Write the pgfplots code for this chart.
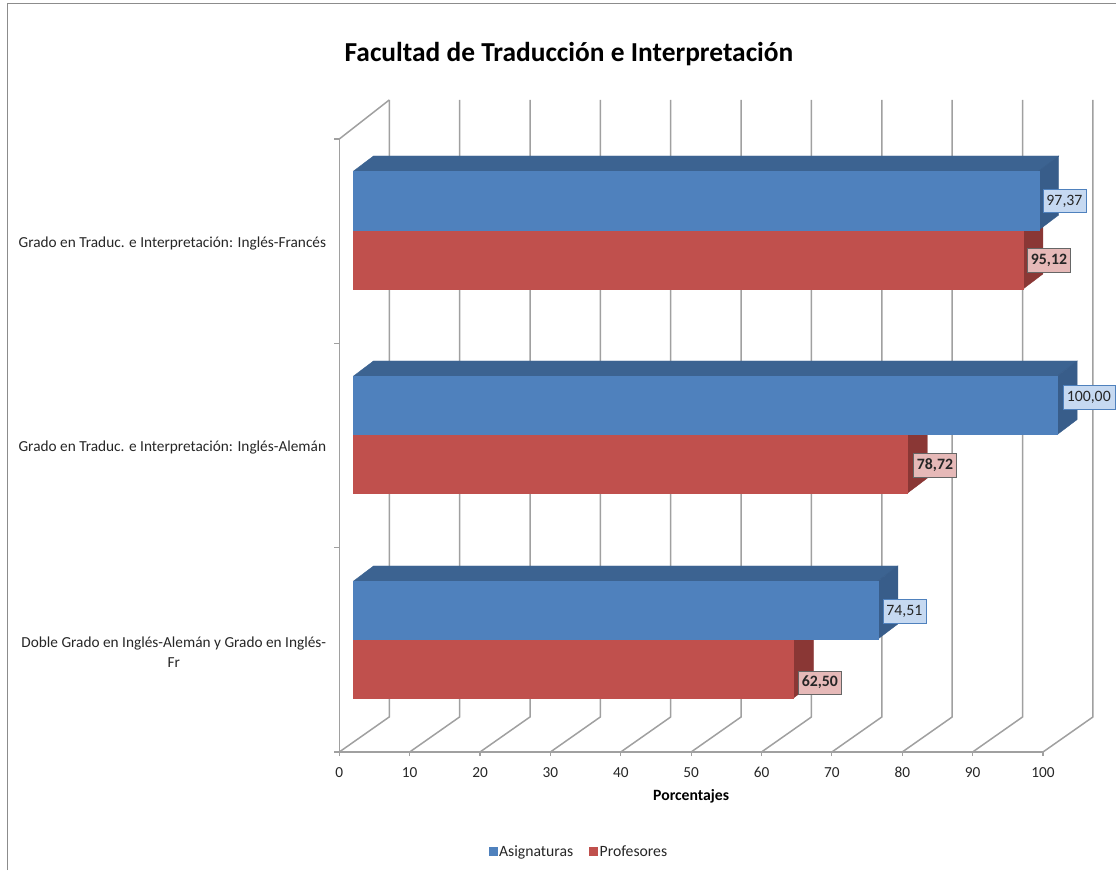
\documentclass[border=0pt]{standalone}
\usepackage{fontspec}
\setmainfont{Carlito}
\usepackage{pgfplots}
\pgfplotsset{compat=1.18}

\definecolor{bluefront}{HTML}{4F81BD}
\definecolor{bluetop}{HTML}{3C6391}
\definecolor{blueside}{HTML}{385D8A}
\definecolor{bluelabel}{HTML}{C6D9F1}
\definecolor{redfront}{HTML}{C0504D}
\definecolor{redside}{HTML}{8A3735}
\definecolor{redlabel}{HTML}{E6B9B8}
\definecolor{wall}{HTML}{A0A0A0}

\tikzset{vallabel/.style={inner sep=0pt, minimum width=43pt, minimum height=23.5pt,
        font=\fontsize{15.8}{16}\selectfont, text=black!85}}

\begin{document}
\begin{tikzpicture}[x=1pt,y=1pt]
\path[use as bounding box] (0,0) rectangle (1116,870);
\draw[gray!90,line width=1pt] (7.5,0) -- (7.5,866.5) -- (1116,866.5);

\begin{axis}[
    at={(339.3pt,118pt)}, anchor=south west,
    scale only axis,
    width=703.7pt, height=613pt,
    xmin=0, xmax=100, ymin=0, ymax=3,
    clip=false,
    axis x line*=bottom, axis y line*=left,
    axis line style={wall, line width=1.5pt, -},
    xtick={0,10,...,100},
    ytick={0.5,1.5,2.5},
    minor ytick={0,1,2,3},
    yticklabels={{Doble Grado en Inglés-Alemán y Grado en Inglés-\\Fr},
                 {Grado en Traduc. e Interpretación: Inglés-Alemán},
                 {Grado en Traduc. e Interpretación: Inglés-Francés}},
    tick align=outside,
    major tick length=4pt,
    minor tick length=5pt,
    y tick style={draw=none},
    minor y tick style={wall, line width=1.2pt, draw=wall},
    x tick style={wall, line width=1.2pt},
    tick label style={font=\fontsize{15.3}{20}\selectfont, text=black!85},
    yticklabel style={align=center, inner sep=0pt, xshift=-9pt, yshift=-2pt},
    xticklabel style={inner sep=0pt, yshift=-11pt},
    /pgf/number format/assume math mode=true,
    title={\fontsize{27.4}{32}\selectfont\bfseries Facultad de Traducción e Interpretación},
    title style={at={(0.3264,1.1289)}, anchor=center, inner sep=0pt},
    xlabel={\fontsize{15.7}{18}\selectfont\bfseries Porcentajes},
    xlabel style={at={(0.5,-0.0718)}, anchor=center, inner sep=0pt},
    legend columns=2,
    legend style={at={(0.3405,-0.1625)}, anchor=center, draw=none, fill=none,
        font=\fontsize{15.7}{18}\selectfont, text=black!85,
        /tikz/every even column/.append style={column sep=14pt}},
    face/.style={forget plot, x filter/.expression={x+2.04}},
    gridline/.style={forget plot, wall, line width=1.5pt, mark=none},
]

% back wall and floor lines
\addplot[gridline] coordinates {(0,3) (7.1,3.191)};
\addplot[gridline] coordinates {(0,0) (7.1,0.1716) (7.1,3.191)};
\addplot[gridline] coordinates {(10,0) (17.1,0.1716) (17.1,3.191)};
\addplot[gridline] coordinates {(20,0) (27.1,0.1716) (27.1,3.191)};
\addplot[gridline] coordinates {(30,0) (37.1,0.1716) (37.1,3.191)};
\addplot[gridline] coordinates {(40,0) (47.1,0.1716) (47.1,3.191)};
\addplot[gridline] coordinates {(50,0) (57.1,0.1716) (57.1,3.191)};
\addplot[gridline] coordinates {(60,0) (67.1,0.1716) (67.1,3.191)};
\addplot[gridline] coordinates {(70,0) (77.1,0.1716) (77.1,3.191)};
\addplot[gridline] coordinates {(80,0) (87.1,0.1716) (87.1,3.191)};
\addplot[gridline] coordinates {(90,0) (97.1,0.1716) (97.1,3.191)};
\addplot[gridline] coordinates {(100,0) (107.1,0.1716) (107.1,3.191)};

% Doble Grado: Profesores 62,50 / Asignaturas 74,51
\addplot[face, fill=redside, draw=redside] coordinates {(62.5,0.2643) (65.32,0.3377) (65.32,0.6264) (62.5,0.5530)} --cycle;
\addplot[face, fill=redfront, draw=redfront] coordinates {(0,0.2643) (62.5,0.2643) (62.5,0.5530) (0,0.5530)} --cycle;
\addplot[face, fill=bluetop, draw=bluetop] coordinates {(0,0.8369) (74.51,0.8369) (77.33,0.9103) (2.82,0.9103)} --cycle;
\addplot[face, fill=blueside, draw=blueside] coordinates {(74.51,0.5530) (77.33,0.6264) (77.33,0.9103) (74.51,0.8369)} --cycle;
\addplot[face, fill=bluefront, draw=bluefront] coordinates {(0,0.5530) (74.51,0.5530) (74.51,0.8369) (0,0.8369)} --cycle;

% Ingles-Aleman: Profesores 78,72 / Asignaturas 100,00
\addplot[face, fill=redside, draw=redside] coordinates {(78.72,1.2676) (81.54,1.3410) (81.54,1.6273) (78.72,1.5539)} --cycle;
\addplot[face, fill=redfront, draw=redfront] coordinates {(0,1.2676) (78.72,1.2676) (78.72,1.5539) (0,1.5539)} --cycle;
\addplot[face, fill=bluetop, draw=bluetop] coordinates {(0,1.8402) (100,1.8402) (102.82,1.9136) (2.82,1.9136)} --cycle;
\addplot[face, fill=blueside, draw=blueside] coordinates {(100,1.5539) (102.82,1.6273) (102.82,1.9136) (100,1.8402)} --cycle;
\addplot[face, fill=bluefront, draw=bluefront] coordinates {(0,1.5539) (100,1.5539) (100,1.8402) (0,1.8402)} --cycle;

% Ingles-Frances: Profesores 95,12 / Asignaturas 97,37
\addplot[face, fill=redside, draw=redside] coordinates {(95.12,2.2659) (97.94,2.3393) (97.94,2.6281) (95.12,2.5547)} --cycle;
\addplot[face, fill=redfront, draw=redfront] coordinates {(0,2.2659) (95.12,2.2659) (95.12,2.5547) (0,2.5547)} --cycle;
\addplot[face, fill=bluetop, draw=bluetop] coordinates {(0,2.8434) (97.37,2.8434) (100.19,2.9168) (2.82,2.9168)} --cycle;
\addplot[face, fill=blueside, draw=blueside] coordinates {(97.37,2.5547) (100.19,2.6281) (100.19,2.9168) (97.37,2.8434)} --cycle;
\addplot[face, fill=bluefront, draw=bluefront] coordinates {(0,2.5547) (97.37,2.5547) (97.37,2.8434) (0,2.8434)} --cycle;

% data labels
\node[vallabel, fill=bluelabel, draw=bluefront] at (axis cs:103.05,2.697) {97,37};
\node[vallabel, fill=redlabel, draw=black!60, font=\fontsize{15.8}{16}\selectfont\bfseries] at (axis cs:100.85,2.408) {95,12};
\node[vallabel, fill=bluelabel, draw=bluefront, minimum width=52pt] at (axis cs:106.5,1.737) {100,00};
\node[vallabel, fill=redlabel, draw=black!60, font=\fontsize{15.8}{16}\selectfont\bfseries] at (axis cs:84.65,1.4046) {78,72};
\node[vallabel, fill=bluelabel, draw=bluefront] at (axis cs:80.3,0.690) {74,51};
\node[vallabel, fill=redlabel, draw=black!60, font=\fontsize{15.8}{16}\selectfont\bfseries] at (axis cs:68.3,0.34) {62,50};

\addlegendimage{legend image code/.code={\fill[bluefront] (-2pt,-4pt) rectangle (6pt,4pt);}}
\addlegendentry{Asignaturas}
\addlegendimage{legend image code/.code={\fill[redfront] (-2pt,-4pt) rectangle (6pt,4pt);}}
\addlegendentry{Profesores}
\end{axis}
\end{tikzpicture}
\end{document}
